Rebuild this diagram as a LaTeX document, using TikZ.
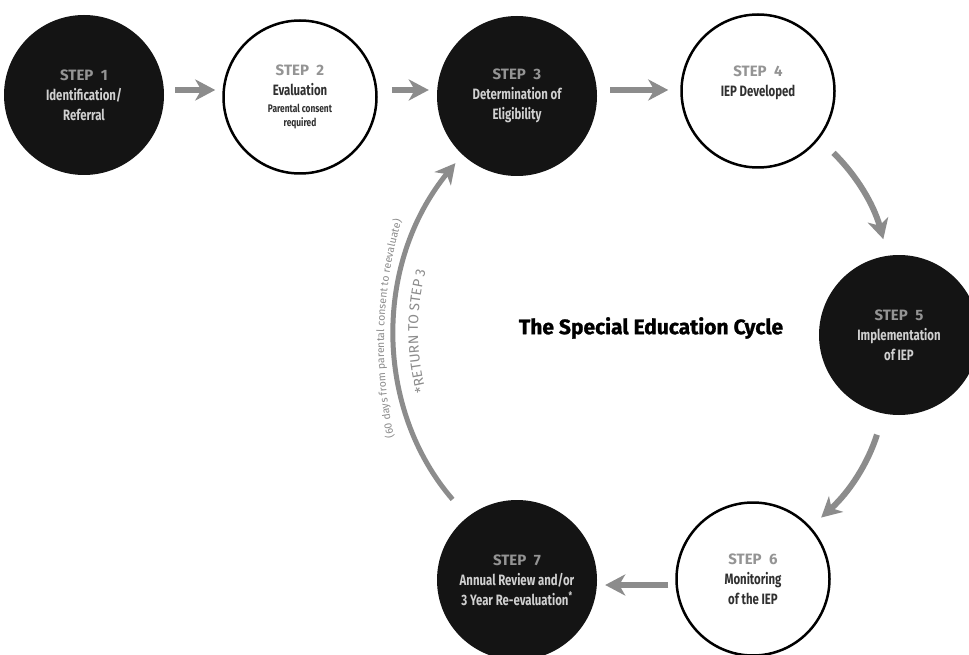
\documentclass[tikz,border=0pt]{standalone}
\usepackage{fontspec}
\setmainfont{Fira Sans}
\newfontfamily\stepfont[FakeStretch=0.76]{Fira Sans}
\newfontfamily\titlefont[FakeBold=1.2]{Fira Sans}
\usetikzlibrary{arrows.meta, positioning, decorations.text}

\definecolor{cyclegray}{HTML}{8C8C8C}
\definecolor{stepdark}{HTML}{141414}
\definecolor{stepgray}{HTML}{949494}
\definecolor{paletext}{HTML}{D0D0D0}
\definecolor{inktext}{HTML}{303030}

\newcommand{\steplabel}[1]{{\normalfont\bfseries\fontsize{15}{20}\selectfont\color{stepgray}STEP\enspace#1}}
\newcommand{\returnfont}{\fontsize{14}{14}\selectfont}
\newcommand{\notefont}{\fontsize{10.5}{10.5}\selectfont}
\newcommand{\consentfont}{\fontsize{11}{12}\selectfont}

\tikzset{
    step circle/.style = {circle, align=center, inner sep=0pt,
        font=\stepfont\bfseries\fontsize{15}{20}\selectfont},
    dark step/.style = {step circle, minimum size=160pt, fill=stepdark, text=paletext},
    light step/.style = {step circle, minimum size=153pt, draw=black, line width=2.5pt,
        fill=white, text=inktext},
    cycle arrow/.style = {draw=cyclegray, line width=6pt,
        -{Stealth[length=20pt, width=21pt, inset=6pt]}}
}

\begin{document}
\begin{tikzpicture}[x=1pt, y=1pt]
    \path[use as bounding box, fill=white] (0,0) rectangle (969,-655);

    \node[dark step] (s1) at (84,-95) {\steplabel{1}\\Identification/\\Referral};
    \node[light step] (s2) at (300,-97) {\steplabel{2}\\Evaluation\\[-3pt]
        {\consentfont Parental consent}\\[-6pt]{\consentfont required}};
    \node[dark step] (s3) at (517,-96) {\steplabel{3}\\Determination of\\Eligibility};
    \node[light step] (s4) at (758,-91) {\steplabel{4}\\IEP Developed\\\mbox{}};
    \node[dark step] (s5) at (899,-335) {\steplabel{5}\\Implementation\\of IEP};
    \node[light step] (s6) at (753,-579) {\steplabel{6}\\Monitoring\\of the IEP};
    \node[dark step] (s7) at (517,-580) {\steplabel{7}\\Annual Review and/or\\3 Year Re-evaluation\textsuperscript{*}};

    \node[font=\titlefont\bfseries\fontsize{21}{21}\selectfont] (title) at (651,-328) {The Special Education Cycle};

    % forward steps
    \draw[cycle arrow, shorten <=11pt, shorten >=7pt] ([yshift=5pt]s1.east) -- ([yshift=7pt]s2.west);
    \draw[cycle arrow, shorten <=14pt, shorten >=8pt] ([yshift=7pt]s2.east) -- ([yshift=6pt]s3.west);
    \draw[cycle arrow, shorten <=13pt, shorten >=12pt] ([yshift=6pt]s3.east) -- ([yshift=1pt]s4.west);
    \draw[cycle arrow, shorten <=20pt, shorten >=17pt] (s4.-38) to[bend left=15] (s5.98);
    \draw[cycle arrow, shorten <=22pt, shorten >=14pt] (s5.-101) to[bend left=15] (s6.42);
    \draw[cycle arrow, shorten <=7pt, shorten >=8pt] ([yshift=-6pt]s6.west) -- ([yshift=-5pt]s7.east);

    % back to step 3
    \draw[cycle arrow, line width=5pt, shorten <=23pt, shorten >=11pt] (s7.128) to[bend left=40] (s3.227);
    \path[decorate, decoration={text along path, text align=center, text color=cyclegray,
        text={|\returnfont|*RETURN TO STEP 3}}]
        ([shift={(205:236)}]654,-331) arc[start angle=205, end angle=155, radius=236];
    \path[decorate, decoration={text along path, text align=center, text color=cyclegray,
        text={|\notefont|(60 days from parental consent to reevaluate)}}]
        ([shift={(208:441)}]825,-344) arc[start angle=208, end angle=148, radius=441];
\end{tikzpicture}
\end{document}
